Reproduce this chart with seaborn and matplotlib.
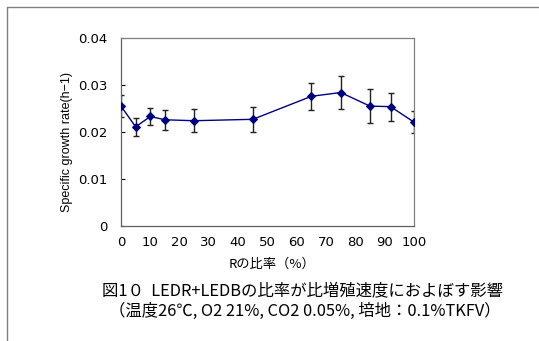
import matplotlib
matplotlib.use("Agg")
import matplotlib.pyplot as plt
import seaborn as sns
import pandas as pd
from matplotlib.lines import Line2D

ratio = [0, 5, 10, 15, 25, 45, 65, 75, 85, 92, 100]
rate = [0.0255, 0.0211, 0.0233, 0.0226, 0.0224, 0.0227, 0.0276, 0.0284, 0.0255, 0.0254, 0.0221]
err = [0.0023, 0.0019, 0.0019, 0.0021, 0.0024, 0.0026, 0.0029, 0.0035, 0.0036, 0.0030, 0.0024]
xticks = [0, 10, 20, 30, 40, 50, 60, 70, 80, 90, 100]
yticks = [0, 0.01, 0.02, 0.03, 0.04]
ytick_labels = ["0", "0.01", "0.02", "0.03", "0.04"]

sns.set_theme(style="white")
plt.rcParams['font.family'] = ['Noto Sans CJK JP', 'DejaVu Sans']

df = pd.DataFrame({"ratio": ratio, "rate": rate, "err": err})

fig = plt.figure(figsize=(5.39, 3.41), dpi=100)
ax = fig.add_axes([121/539, 1-226/341, (414-121)/539, (226-38)/341])

ax.errorbar(df["ratio"], df["rate"], yerr=df["err"], fmt="none", ecolor="#202020",
            elinewidth=1.0, capsize=2.5, capthick=1.0, zorder=2)
sns.lineplot(data=df, x="ratio", y="rate", ax=ax, color="#000080", marker="D",
             markersize=4.5, markeredgecolor="#000080", linewidth=1.0, zorder=3)

ax.set_xlim(0, 100)
ax.set_ylim(0, 0.04)
ax.set_xticks(xticks)
ax.set_xticklabels([str(t) for t in xticks], family=['DejaVu Sans'])
ax.set_yticks(yticks)
ax.set_yticklabels(ytick_labels, family=['DejaVu Sans'])
ax.tick_params(axis="x", length=0, pad=7, labelsize=9.5, colors="black")
ax.tick_params(axis="y", direction="in", length=3, width=0.8, pad=10, labelsize=9.5,
               colors="black", left=True)
for s in ax.spines.values():
    s.set_color("#808080")
    s.set_linewidth(0.9)
ax.spines["left"].set_color("#606060")
ax.spines["bottom"].set_color("#606060")

ax.set_xlabel("Rの比率（%）", fontsize=9.5, color="black")
ax.xaxis.set_label_coords((272-121)/293, -(264-226)/188)
ax.xaxis.label.set_va("center")
ax.set_ylabel("Specific growth rate(h−1)", fontsize=9, color="black",
              family=['Liberation Sans', 'DejaVu Sans'])
ax.yaxis.set_label_coords((67-121)/293, (226-142)/188)
ax.yaxis.label.set_va("center")

fig.text(302/539, 1-291/341, "図1０  LEDR+LEDBの比率が比増殖速度におよぼす影響",
         ha="center", va="center", fontsize=11.8, color="black")
fig.text(305/539, 1-311/341, "（温度26℃, O2 21%, CO2 0.05%, 培地：0.1%TKFV）",
         ha="center", va="center", fontsize=11.8, color="black")

fig.add_artist(Line2D([7/539, 7/539], [0, 1-7/341], transform=fig.transFigure,
                      color="#808080", linewidth=1.0))
fig.add_artist(Line2D([7/539, 1], [1-7/341, 1-7/341], transform=fig.transFigure,
                      color="#808080", linewidth=1.0))

fig.savefig("out.png", dpi=100)
